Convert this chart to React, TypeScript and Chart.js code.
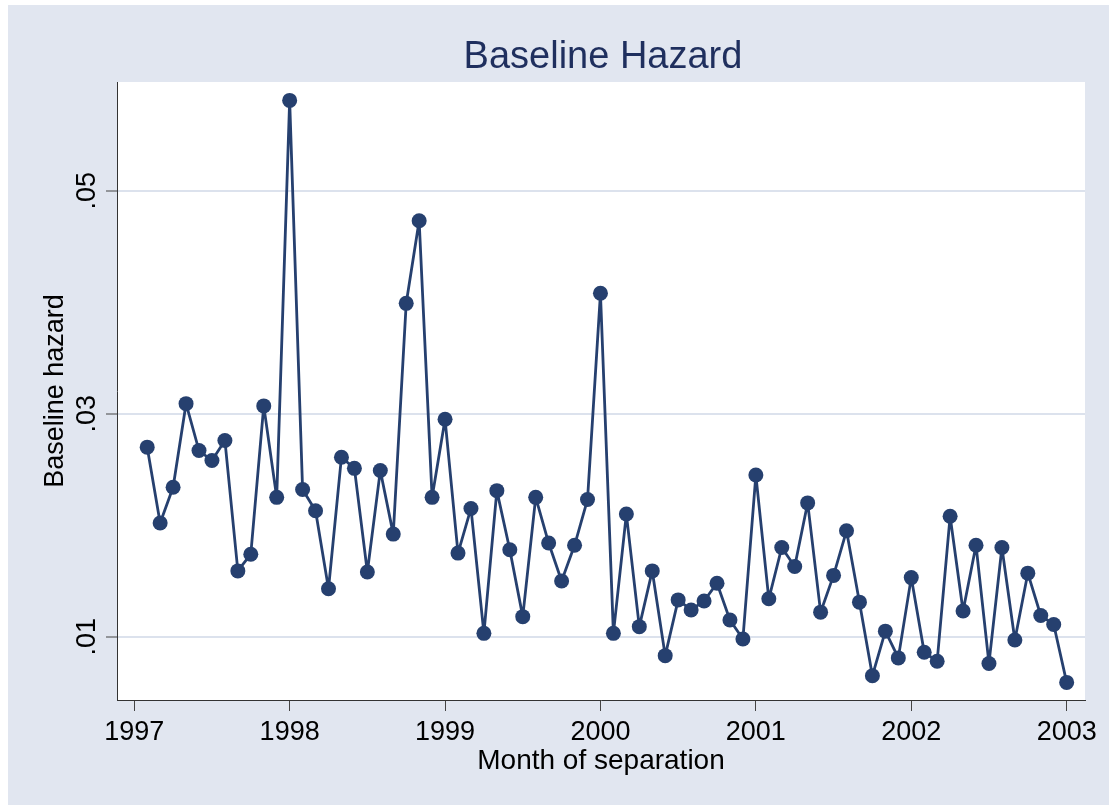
import React, { useEffect, useRef } from 'react';
import { Chart, registerables } from 'chart.js';

Chart.register(...registerables);

// Stata monthly dates (year m month)
const months = [
  '1997m2', '1997m3', '1997m4', '1997m5', '1997m6', '1997m7', '1997m8', '1997m9', '1997m10', '1997m11', '1997m12',
  '1998m1', '1998m2', '1998m3', '1998m4', '1998m5', '1998m6', '1998m7', '1998m8', '1998m9', '1998m10', '1998m11', '1998m12',
  '1999m1', '1999m2', '1999m3', '1999m4', '1999m5', '1999m6', '1999m7', '1999m8', '1999m9', '1999m10', '1999m11', '1999m12',
  '2000m1', '2000m2', '2000m3', '2000m4', '2000m5', '2000m6', '2000m7', '2000m8', '2000m9', '2000m10', '2000m11', '2000m12',
  '2001m1', '2001m2', '2001m3', '2001m4', '2001m5', '2001m6', '2001m7', '2001m8', '2001m9', '2001m10', '2001m11', '2001m12',
  '2002m1', '2002m2', '2002m3', '2002m4', '2002m5', '2002m6', '2002m7', '2002m8', '2002m9', '2002m10', '2002m11', '2002m12',
  '2003m1',
];

const hazard = [
  0.0270, 0.0202, 0.0234, 0.0309, 0.0267, 0.0258, 0.0276, 0.0159, 0.0174, 0.0307, 0.0225,
  0.0581, 0.0232, 0.0213, 0.0143, 0.0261, 0.0251, 0.0158, 0.0249, 0.0192, 0.0399, 0.0473, 0.0225,
  0.0295, 0.0175, 0.0215, 0.0103, 0.0231, 0.0178, 0.0118, 0.0225, 0.0184, 0.0150, 0.0182, 0.0223,
  0.0408, 0.0103, 0.0210, 0.0109, 0.0159, 0.0083, 0.0133, 0.0124, 0.0132, 0.0148, 0.0115, 0.0098,
  0.0245, 0.0134, 0.0180, 0.0163, 0.0220, 0.0122, 0.0155, 0.0195, 0.0131, 0.0065, 0.0105, 0.0081,
  0.0153, 0.0086, 0.0078, 0.0208, 0.0123, 0.0182, 0.0076, 0.0180, 0.0097, 0.0157, 0.0119, 0.0111,
  0.0059,
];

const xTickValues = [1997, 1998, 1999, 2000, 2001, 2002, 2003];
const yTickValues = [0.01, 0.03, 0.05];
const yTickLabels = ['.01', '.03', '.05'];

const titleText = 'Baseline Hazard';
const xTitleText = 'Month of separation';
const yTitleText = 'Baseline hazard';

const BG = '#e1e6f0';
const NAVY = '#26406f';
const TITLE_COLOR = '#1f2f5e';
const FONT = '"Liberation Sans", Arial, Helvetica, sans-serif';

function monthToYear(m: string): number {
  const [y, mm] = m.split('m');
  return Number(y) + (Number(mm) - 1) / 12;
}

const decoPlugin = {
  id: 'deco',
  beforeDraw(chart: any) {
    const { ctx, chartArea: a, width, height } = chart;
    ctx.save();
    ctx.fillStyle = BG;
    ctx.fillRect(0, 0, width, height);
    ctx.fillStyle = '#ffffff';
    ctx.fillRect(a.left, a.top, a.right - a.left, a.bottom - a.top);
    ctx.restore();
  },
  afterDraw(chart: any) {
    const { ctx, chartArea: a } = chart;
    const yScale = chart.scales.y;
    ctx.save();
    // Title
    ctx.fillStyle = TITLE_COLOR;
    ctx.font = `38px ${FONT}`;
    ctx.textAlign = 'center';
    ctx.textBaseline = 'alphabetic';
    ctx.fillText(titleText, (a.left + a.right) / 2 + 2, 63);
    // X axis title
    ctx.fillStyle = '#000000';
    ctx.font = `28px ${FONT}`;
    ctx.fillText(xTitleText, (a.left + a.right) / 2, 764);
    // Y axis title (rotated)
    ctx.font = `27px ${FONT}`;
    ctx.save();
    ctx.translate(55, (a.top + a.bottom) / 2);
    ctx.rotate(-Math.PI / 2);
    ctx.textAlign = 'center';
    ctx.textBaseline = 'alphabetic';
    ctx.fillText(yTitleText, 0, 0);
    ctx.restore();
    // Y tick labels (rotated)
    yTickValues.forEach((v, i) => {
      const py = yScale.getPixelForValue(v);
      ctx.save();
      ctx.translate(87, py);
      ctx.rotate(-Math.PI / 2);
      ctx.textAlign = 'center';
      ctx.textBaseline = 'alphabetic';
      ctx.fillText(yTickLabels[i], 0, 0);
      ctx.restore();
    });
    ctx.restore();
  },
};

export default function App() {
  const canvasRef = useRef<HTMLCanvasElement | null>(null);

  useEffect(() => {
    const canvas = canvasRef.current;
    if (!canvas) return;
    const points = months.map((m, i) => ({ x: monthToYear(m), y: hazard[i] }));
    const chart = new Chart(canvas, {
      type: 'line',
      data: {
        datasets: [
          {
            label: yTitleText,
            data: points,
            borderColor: NAVY,
            backgroundColor: NAVY,
            borderWidth: 2.8,
            borderJoinStyle: 'round',
            borderCapStyle: 'round',
            pointRadius: 7.5,
            pointHoverRadius: 7.5,
            pointBackgroundColor: NAVY,
            pointBorderWidth: 0,
            tension: 0,
            fill: false,
          },
        ],
      },
      options: {
        animation: false,
        responsive: false,
        devicePixelRatio: 1,
        events: [],
        layout: { padding: { top: 77, right: 24, left: 0, bottom: 0 } },
        plugins: {
          legend: { display: false },
          title: { display: false },
          tooltip: { enabled: false },
        },
        scales: {
          x: {
            type: 'linear',
            min: 1996.889,
            max: 2003.118,
            afterBuildTicks: (s: any) => {
              s.ticks = xTickValues.map((v) => ({ value: v }));
            },
            afterFit: (s: any) => {
              s.height = 105;
            },
            grid: {
              drawOnChartArea: false,
              drawTicks: true,
              tickLength: 11,
              tickColor: '#444444',
              tickWidth: 1,
            },
            border: { display: true, color: '#333333', width: 1 },
            ticks: {
              autoSkip: false,
              maxRotation: 0,
              minRotation: 0,
              padding: 5,
              color: '#000000',
              font: { family: FONT, size: 27 },
              callback: (v: any) => String(v),
            },
          },
          y: {
            type: 'linear',
            min: 0.004323,
            max: 0.05975,
            afterBuildTicks: (s: any) => {
              s.ticks = yTickValues.map((v) => ({ value: v }));
            },
            afterFit: (s: any) => {
              s.width = 109;
            },
            grid: {
              drawOnChartArea: true,
              drawTicks: true,
              tickLength: 11,
              color: '#dce2ed',
              lineWidth: 2,
              tickColor: '#444444',
              tickWidth: 1,
            },
            border: { display: true, color: '#333333', width: 1 },
            ticks: { display: false },
          },
        },
      },
      plugins: [decoPlugin],
    } as any);
    return () => chart.destroy();
  }, []);

  return (
    <div style={{ position: 'absolute', left: 8, top: 5, width: 1101, height: 800 }}>
      <canvas ref={canvasRef} width={1101} height={800} style={{ display: 'block' }} />
    </div>
  );
}
